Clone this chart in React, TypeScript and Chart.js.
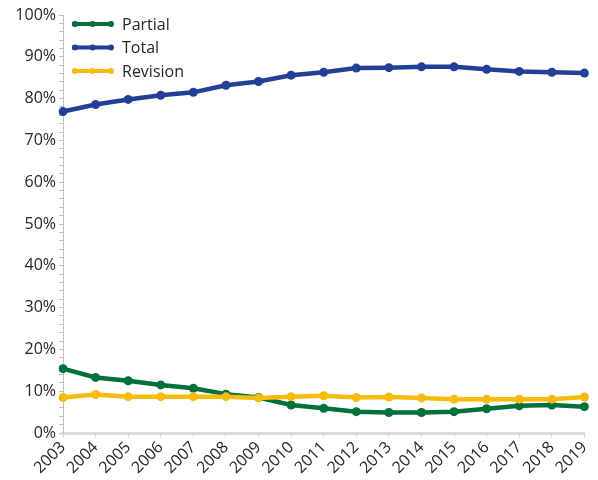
import React, { useEffect, useRef } from "react";
import { Chart, registerables } from "chart.js";

Chart.register(...registerables);

const years = ["2003","2004","2005","2006","2007","2008","2009","2010","2011","2012","2013","2014","2015","2016","2017","2018","2019"];
const partial = [15.4, 13.3, 12.5, 11.5, 10.7, 9.3, 8.5, 6.7, 5.9, 5.1, 4.9, 4.9, 5.1, 5.8, 6.5, 6.7, 6.3];
const total = [76.9, 78.6, 79.8, 80.8, 81.5, 83.2, 84.1, 85.6, 86.3, 87.3, 87.4, 87.6, 87.6, 87.0, 86.5, 86.3, 86.1];
const revision = [8.5, 9.2, 8.7, 8.7, 8.7, 8.7, 8.4, 8.7, 8.9, 8.5, 8.6, 8.4, 8.1, 8.1, 8.1, 8.1, 8.6];
const seriesNames = ["Partial", "Total", "Revision"];
const seriesColors = ["#00703C", "#233F97", "#F7BC0B"];

const FONT = "'Open Sans', sans-serif";
const TEXT = "#262626";

const legendPlugin = {
  id: "insideLegend",
  afterDraw(chart: any) {
    const ctx = chart.ctx;
    const area = chart.chartArea;
    ctx.save();
    ctx.font = `16px ${FONT}`;
    ctx.textBaseline = "middle";
    seriesNames.forEach((name, i) => {
      const y = 24 + i * 23.5;
      const x0 = area.left + 9;
      const x1 = area.left + 50;
      ctx.strokeStyle = seriesColors[i];
      ctx.fillStyle = seriesColors[i];
      ctx.lineWidth = 4;
      ctx.beginPath();
      ctx.moveTo(x0, y);
      ctx.lineTo(x1, y);
      ctx.stroke();
      [x0 + 3, (x0 + x1) / 2, x1 - 2].forEach((mx) => {
        ctx.beginPath();
        ctx.arc(mx, y, 3, 0, Math.PI * 2);
        ctx.fill();
      });
      ctx.fillStyle = TEXT;
      ctx.textAlign = "left";
      ctx.fillText(name, area.left + 59, y + 1);
    });
    ctx.restore();
  },
};

export default function App() {
  const ref = useRef<HTMLCanvasElement>(null);
  useEffect(() => {
    if (!ref.current) return;
    const data = [partial, total, revision];
    const chart = new Chart(ref.current, {
      type: "line",
      data: {
        labels: years,
        datasets: seriesNames.map((name, i) => ({
          label: name,
          data: data[i],
          borderColor: seriesColors[i],
          backgroundColor: seriesColors[i],
          borderWidth: 4.5,
          pointRadius: 4.5,
          pointBorderWidth: 0,
          pointBackgroundColor: seriesColors[i],
          tension: 0,
          order: i === 2 ? 0 : i + 1,
        })),
      },
      options: {
        animation: false,
        responsive: false,
        maintainAspectRatio: false,
        layout: { padding: { top: 15, right: 12, left: 0, bottom: 0 } },
        plugins: {
          legend: { display: false },
          tooltip: { enabled: false },
        },
        scales: {
          x: {
            offset: false,
            grid: {
              drawOnChartArea: false,
              drawTicks: true,
              tickLength: 5,
              color: "#d9d9d9",
            },
            border: { display: true, color: "#d9d9d9", width: 3 },
            ticks: {
              maxRotation: 45,
              minRotation: 45,
              autoSkip: false,
              padding: 0,
              color: TEXT,
              font: { family: FONT, size: 16 },
            },
            afterFit(scale: any) {
              scale.height = 47;
            },
          },
          y: {
            min: 0,
            max: 100,
            grid: {
              drawOnChartArea: false,
              drawTicks: true,
              tickLength: 4,
              color: "#bfbfbf",
            },
            border: { display: true, color: "#bfbfbf", width: 1 },
            ticks: {
              stepSize: 2,
              autoSkip: false,
              maxTicksLimit: 100,
              padding: 3,
              color: TEXT,
              font: { family: FONT, size: 16 },
              callback: (v: any) => (Number(v) % 10 === 0 ? `${v}%` : ""),
            },
            afterFit(scale: any) {
              scale.width = 63;
            },
          },
        },
      },
      plugins: [legendPlugin],
    });
    return () => chart.destroy();
  }, []);
  return (
    <div style={{ position: "absolute", left: 0, top: 0, width: 598, height: 480 }}>
      <canvas ref={ref} width={598} height={480} style={{ width: 598, height: 480 }} />
    </div>
  );
}
